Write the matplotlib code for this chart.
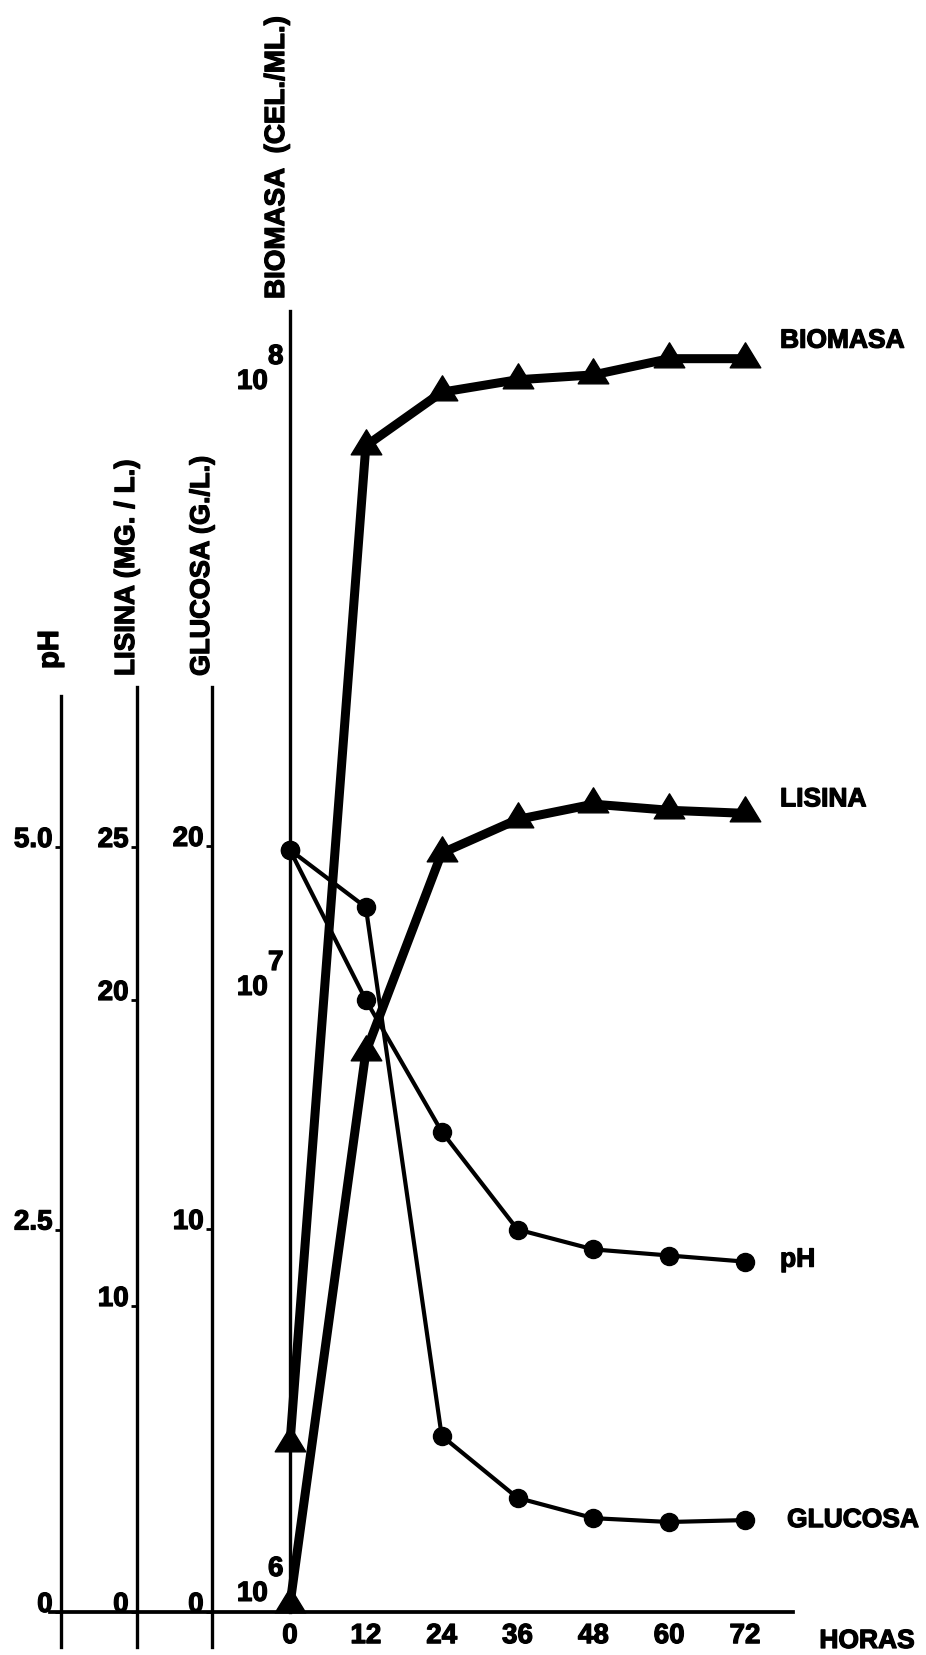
import matplotlib
matplotlib.use("Agg")
import matplotlib.pyplot as plt
import matplotlib.patheffects as pe
from matplotlib.path import Path
from matplotlib.text import Text
from matplotlib.ticker import NullLocator
from matplotlib.transforms import ScaledTranslation

# datos
horas = [0, 12, 24, 36, 48, 60, 72]
biomasa = [1.9e6, 8.4e7, 1.03e8, 1.08e8, 1.10e8, 1.17e8, 1.17e8]  # cel/ml
lisina = [0.25, 18.3, 24.8, 25.9, 26.4, 26.2, 26.1]  # mg/l
ph = [4.98, 4.0, 3.14, 2.5, 2.37, 2.33, 2.29]
glucosa = [19.9, 18.4, 4.6, 2.98, 2.45, 2.35, 2.4]  # g/l

ph_ticks = [0, 2.5, 5.0]
ph_labels = ["0", "2.5", "5.0"]
lis_ticks = [0, 10, 20, 25]
glu_ticks = [0, 10, 20]
bio_exp = [6, 7, 8]

plt.rcParams['font.family'] = ['Liberation Sans', 'DejaVu Sans']
plt.rcParams['font.weight'] = 'bold'

W, H = 926, 1656
fig = plt.figure(figsize=(W / 100, H / 100), dpi=100)

# layout in pixels (from top-left)
L, R = 50, 793
TOP, BOT = 312, 1650
BASE = 1613      # baseline (value 0 / 10^6)
X0 = 290         # hour 0
PX_H = 6.32      # px per hour
DEC = 606        # px per decade of biomass
LOW = 1648       # lower end of the left axes lines
PT = 0.72        # points per pixel
FS = 20          # tick font size


def fx(px):
    return (px - L) / (R - L)


def fy(px):
    return (BOT - px) / (BOT - TOP)


ax = fig.add_axes([L / W, (H - BOT) / H, (R - L) / W, (BOT - TOP) / H])
ax.set_xlim((L - X0) / PX_H, (R - X0) / PX_H)
ax.set_yscale('log')
ax.set_ylim(10 ** (6 - (BOT - BASE) / DEC), 10 ** (6 + (BASE - TOP) / DEC))
ax.patch.set_visible(False)

for s in ['top', 'right']:
    ax.spines[s].set_visible(False)
ax.spines['left'].set_position(('data', 0))
ax.spines['left'].set_bounds(1e6, ax.get_ylim()[1])
ax.spines['left'].set_linewidth(2.4)
ax.spines['bottom'].set_position(('data', 1e6))
ax.spines['bottom'].set_linewidth(2.7)

ax.set_xticks(horas)
ax.tick_params(axis='x', length=0, pad=8, labelsize=FS)
ax.set_yticks([10.0 ** e for e in bio_exp], ["10"] * len(bio_exp))
ax.yaxis.set_minor_locator(NullLocator())
ax.tick_params(axis='y', length=0, pad=16, labelsize=FS)
for lab in ax.get_yticklabels():
    lab.set_va('baseline')
    lab.set_transform(lab.get_transform() + ScaledTranslation(0, 8 / 72, fig.dpi_scale_trans))
for e in bio_exp:
    ax.annotate(str(e), xy=(0, 10.0 ** e), xytext=(-22 * PT, 36 * PT),
                textcoords='offset points', ha='left', va='baseline',
                fontsize=FS, fontweight='bold', annotation_clip=False)

ax.set_xlabel('HORAS', fontsize=19, fontweight='bold', va='center', ha='center')
ax.xaxis.set_label_coords(fx(867), fy(1642))
ax.set_ylabel('BIOMASA  (CEL./ML.)', fontsize=20, fontweight='bold',
              ha='left', va='center')
ax.yaxis.set_label_coords(fx(277), fy(300))


def lin_axis(px_unit, x_px, top_px, ticks, labels, title, tx, ty, tsize):
    tw = ax.twinx()
    tw.set_ylim(-(BOT - BASE) / px_unit, (BASE - TOP) / px_unit)
    for s in ['top', 'right', 'bottom']:
        tw.spines[s].set_visible(False)
    tw.spines['left'].set_visible(True)
    tw.spines['left'].set_position(('axes', fx(x_px)))
    tw.spines['left'].set_bounds(-(LOW - BASE) / px_unit, (BASE - top_px) / px_unit)
    tw.spines['left'].set_linewidth(2.4)
    tw.yaxis.tick_left()
    tw.yaxis.set_label_position('left')
    tw.set_yticks(ticks, labels)
    tw.tick_params(axis='y', length=4, width=2, pad=2, labelsize=FS)
    for lab in tw.get_yticklabels():
        lab.set_va('baseline')
    tw.set_ylabel(title, fontsize=tsize, fontweight='bold', ha='left', va='center')
    tw.yaxis.set_label_coords(fx(tx), fy(ty))
    return tw


ax_ph = lin_axis(153.0, 61, 697, ph_ticks, ph_labels, 'pH', 50, 670, 21)
ax_lis = lin_axis(30.6, 137, 688, lis_ticks, [str(t) for t in lis_ticks],
                  'LISINA (MG. / L.)', 127, 677, 20)
ax_glu = lin_axis(38.3, 212, 688, glu_ticks, [str(t) for t in glu_ticks],
                  'GLUCOSA (G./L.)', 202, 677, 19.5)

tri = Path([(0, 0.6), (-0.55, -0.3), (0.55, -0.3), (0, 0.6)],
           [Path.MOVETO, Path.LINETO, Path.LINETO, Path.CLOSEPOLY])

ax.plot(horas, biomasa, color='black', lw=6.5, marker=tri, ms=24,
        solid_joinstyle='round', clip_on=False)
ax_lis.plot(horas, lisina, color='black', lw=6.5, marker=tri, ms=24,
            solid_joinstyle='round', clip_on=False)
ax_ph.plot(horas, ph, color='black', lw=3, marker='o', ms=13, clip_on=False)
ax_glu.plot(horas, glucosa, color='black', lw=3, marker='o', ms=13, clip_on=False)

# series names
for a, vals, name, dx, dy in [(ax, biomasa, 'BIOMASA', 35, 18),
                              (ax_lis, lisina, 'LISINA', 35, 14),
                              (ax_ph, ph, 'pH', 35, 2),
                              (ax_glu, glucosa, 'GLUCOSA', 42, 0)]:
    a.annotate(name, xy=(horas[-1], vals[-1]), xytext=(dx * PT, dy * PT),
               textcoords='offset points', ha='left', va='center',
               fontsize=19, fontweight='bold', annotation_clip=False)

# heavier print look for all text
for t in fig.findobj(Text):
    t.set_path_effects([pe.withStroke(linewidth=0.9, foreground='black')])

fig.savefig('out.png', dpi=100)
